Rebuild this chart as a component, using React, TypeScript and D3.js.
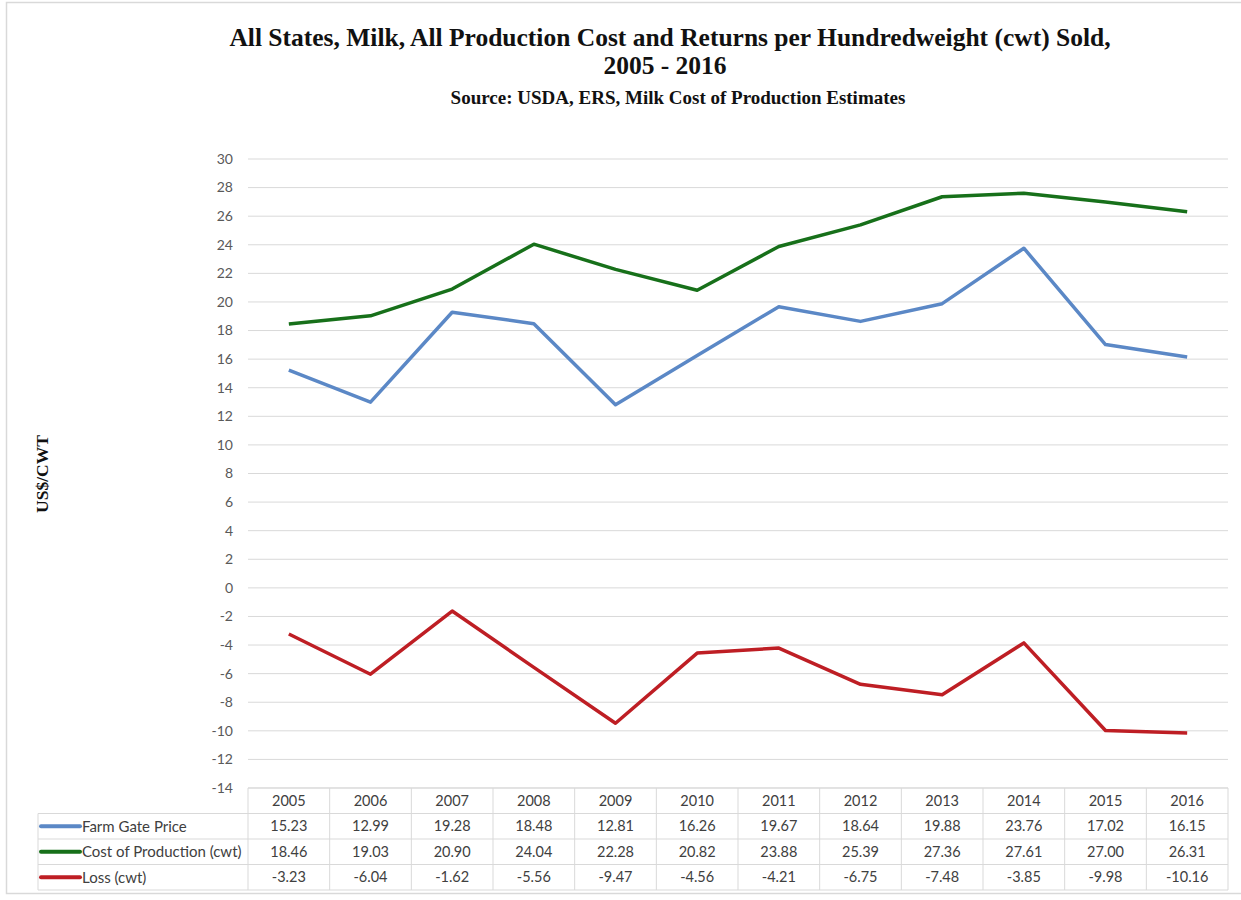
import React from "react";
import * as d3 from "d3";

const years = ["2005","2006","2007","2008","2009","2010","2011","2012","2013","2014","2015","2016"];
const farmGatePrice = [15.23,12.99,19.28,18.48,12.81,16.26,19.67,18.64,19.88,23.76,17.02,16.15];
const costOfProduction = [18.46,19.03,20.90,24.04,22.28,20.82,23.88,25.39,27.36,27.61,27.00,26.31];
const loss = [-3.23,-6.04,-1.62,-5.56,-9.47,-4.56,-4.21,-6.75,-7.48,-3.85,-9.98,-10.16];
const yTicks = [30,28,26,24,22,20,18,16,14,12,10,8,6,4,2,0,-2,-4,-6,-8,-10,-12,-14];

const seriesList = [
  { name: "Farm Gate Price", values: farmGatePrice, color: "#5B88C6" },
  { name: "Cost of Production (cwt)", values: costOfProduction, color: "#17701A" },
  { name: "Loss (cwt)", values: loss, color: "#BE1E24" },
];

const W = 1241, H = 900;
const plotLeft = 248, plotRight = 1228, plotTop = 159, plotBottom = 788;
const rowH = 25.5;
const legendLeft = 38;
const labelFont = "Lato, 'Open Sans', sans-serif";
const serif = "'Liberation Serif', 'Times New Roman', serif";

export default function App() {
  const x = d3.scaleBand<string>().domain(years).range([plotLeft, plotRight]);
  const y = d3.scaleLinear().domain([-14, 30]).range([plotBottom, plotTop]);
  const cx = (yr: string) => (x(yr) as number) + x.bandwidth() / 2;
  const line = d3.line<number>().x((_, i) => cx(years[i])).y((v) => y(v));
  const tableTop = plotBottom;
  const grid = "#D9D9D9";

  return (
    <svg width={W} height={H} style={{ position: "absolute", left: 0, top: 0, background: "#fff" }}>
      <rect x={6.5} y={2.5} width={W} height={891} fill="#fff" stroke="#D9D9D9" strokeWidth={1.5} />
      {/* titles */}
      <text x={670} y={46} textAnchor="middle" fontFamily={serif} fontWeight="bold" fontSize={25.5} fill="#111">
        All States, Milk, All Production Cost and Returns per Hundredweight (cwt) Sold,
      </text>
      <text x={665} y={74} textAnchor="middle" fontFamily={serif} fontWeight="bold" fontSize={25.5} fill="#111">
        2005 - 2016
      </text>
      <text x={678} y={104} textAnchor="middle" fontFamily={serif} fontWeight="bold" fontSize={19} fill="#111">
        Source: USDA, ERS, Milk Cost of Production Estimates
      </text>
      <text transform={`translate(48,${474}) rotate(-90)`} textAnchor="middle" fontFamily={serif} fontWeight="bold" fontSize={17.5} fill="#111">
        US$/CWT
      </text>
      {/* gridlines and y ticks */}
      {yTicks.map((t) => (
        <g key={t}>
          <line x1={plotLeft} x2={plotRight} y1={y(t)} y2={y(t)} stroke={grid} strokeWidth={1} />
          <text x={233} y={y(t)} dy="0.35em" textAnchor="end" fontFamily={labelFont} fontSize={14} fill="#595959">
            {t}
          </text>
        </g>
      ))}
      {/* series lines */}
      {seriesList.map((s) => (
        <path key={s.name} d={line(s.values) || ""} fill="none" stroke={s.color} strokeWidth={3.5} strokeLinejoin="round" />
      ))}
      {/* data table */}
      <g>
        {years.map((yr) => (
          <text key={yr} x={cx(yr)} y={tableTop + rowH / 2} dy="0.35em" textAnchor="middle" fontFamily={labelFont} fontSize={14.5} fill="#404040">
            {yr}
          </text>
        ))}
        {seriesList.map((s, r) => {
          const rowY = tableTop + rowH * (r + 1);
          return (
            <g key={s.name}>
              <line x1={legendLeft + 3} x2={legendLeft + 42} y1={rowY + rowH / 2} y2={rowY + rowH / 2} stroke={s.color} strokeWidth={4} strokeLinecap="round" />
              <text x={legendLeft + 44} y={rowY + rowH / 2} dy="0.35em" fontFamily={labelFont} fontSize={15} fill="#404040">
                {s.name}
              </text>
              {s.values.map((v, i) => (
                <text key={i} x={cx(years[i])} y={rowY + rowH / 2} dy="0.35em" textAnchor="middle" fontFamily={labelFont} fontSize={14.5} fill="#404040">
                  {v.toFixed(2)}
                </text>
              ))}
            </g>
          );
        })}
        {/* table borders */}
        {[0, 1, 2, 3, 4].map((k) => (
          <line key={"h" + k} x1={k === 0 ? plotLeft : legendLeft} x2={plotRight} y1={tableTop + rowH * k} y2={tableTop + rowH * k} stroke={grid} strokeWidth={1} />
        ))}
        <line x1={legendLeft} x2={legendLeft} y1={tableTop + rowH} y2={tableTop + rowH * 4} stroke={grid} strokeWidth={1} />
        {years.map((yr) => (
          <line key={"v" + yr} x1={x(yr) as number} x2={x(yr) as number} y1={tableTop} y2={tableTop + rowH * 4} stroke={grid} strokeWidth={1} />
        ))}
        <line x1={plotRight} x2={plotRight} y1={tableTop} y2={tableTop + rowH * 4} stroke={grid} strokeWidth={1} />
      </g>
    </svg>
  );
}
